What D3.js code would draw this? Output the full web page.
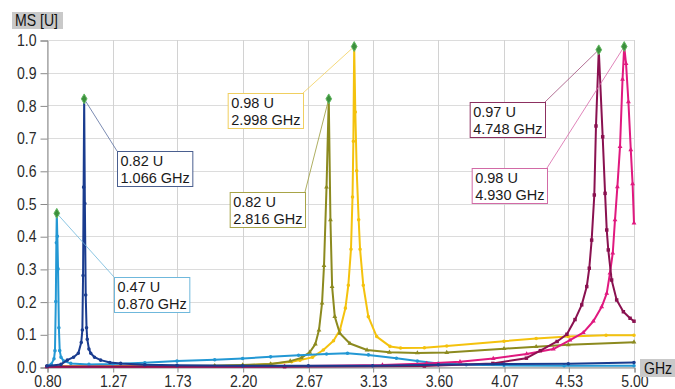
<!DOCTYPE html>
<html>
<head>
<meta charset="utf-8">
<script src="https://cdn.jsdelivr.net/npm/d3@7"></script>
<style>
  html, body { margin: 0; padding: 0; background: #fff; }
  svg { display: block; font-family: "Liberation Sans", Arial, sans-serif; }
</style>
</head>
<body>
<svg id="chart" width="675" height="389"></svg>
<script>
// ---------------- data ----------------
const xTickLabels = ["0.80","1.27","1.73","2.20","2.67","3.13","3.60","4.07","4.53","5.00"];
const yTickValues = [0.0,0.1,0.2,0.3,0.4,0.5,0.6,0.7,0.8,0.9,1.0];
const yAxisTitle = "MS [U]";
const xAxisTitle = "GHz";

// [frequency GHz, magnitude U]
const seriesYellow = [[0.80,0.002],[1.50,0.002],[2.00,0.003],[2.20,0.005],[2.40,0.009],[2.55,0.016],[2.61,0.021],[2.70,0.030],[2.777,0.052],[2.85,0.080],[2.896,0.113],[2.935,0.18],[2.956,0.25],[2.975,0.36],[2.986,0.52],[2.992,0.69],[2.998,0.98],[3.006,0.78],[3.016,0.60],[3.030,0.45],[3.040,0.36],[3.063,0.25],[3.099,0.154],[3.159,0.093],[3.254,0.063],[3.33,0.058],[3.50,0.059],[3.66,0.064],[4.07,0.079],[4.30,0.087],[4.53,0.093],[4.80,0.097],[5.00,0.097]];
const seriesOlive = [[0.80,0.001],[1.50,0.002],[2.00,0.004],[2.20,0.006],[2.40,0.009],[2.54,0.018],[2.62,0.028],[2.68,0.045],[2.72,0.07],[2.746,0.113],[2.768,0.195],[2.782,0.31],[2.800,0.55],[2.816,0.82],[2.828,0.45],[2.840,0.246],[2.859,0.154],[2.895,0.103],[2.967,0.072],[3.09,0.052],[3.25,0.045],[3.45,0.043],[3.66,0.044],[4.07,0.056],[4.30,0.062],[4.53,0.068],[5.00,0.076]];
const seriesLightBlue = [[0.80,0.004],[0.83,0.008],[0.85,0.025],[0.857,0.05],[0.863,0.20],[0.867,0.38],[0.870,0.47],[0.874,0.40],[0.879,0.30],[0.885,0.12],[0.891,0.05],[0.90,0.030],[0.92,0.018],[0.97,0.011],[1.10,0.008],[1.27,0.009],[1.50,0.013],[1.73,0.018],[2.00,0.022],[2.20,0.026],[2.40,0.031],[2.60,0.036],[2.80,0.040],[2.95,0.042],[3.10,0.037],[3.30,0.027],[3.45,0.018],[3.60,0.011],[3.80,0.007],[4.07,0.005],[4.50,0.004],[5.00,0.004]];
const seriesPink = [[0.80,0.001],[2.50,0.002],[3.20,0.006],[3.517,0.011],[3.755,0.016],[3.993,0.026],[4.232,0.040],[4.423,0.055],[4.542,0.082],[4.637,0.105],[4.709,0.14],[4.769,0.184],[4.805,0.225],[4.828,0.287],[4.848,0.348],[4.864,0.45],[4.881,0.551],[4.900,0.674],[4.918,0.88],[4.930,0.98],[4.943,0.928],[4.960,0.811],[4.977,0.664],[4.990,0.56],[5.00,0.44]];
const seriesMaroon = [[0.80,0.001],[2.50,0.001],[3.50,0.003],[3.99,0.011],[4.23,0.027],[4.33,0.050],[4.45,0.078],[4.52,0.100],[4.578,0.145],[4.626,0.19],[4.662,0.246],[4.680,0.302],[4.697,0.388],[4.716,0.526],[4.728,0.737],[4.748,0.97],[4.776,0.704],[4.793,0.531],[4.805,0.419],[4.816,0.358],[4.840,0.266],[4.876,0.205],[4.924,0.169],[4.972,0.149],[5.00,0.14]];
const seriesNavy = [[0.80,0.003],[0.90,0.008],[0.945,0.021],[0.99,0.030],[1.024,0.042],[1.045,0.075],[1.053,0.113],[1.058,0.28],[1.062,0.55],[1.066,0.82],[1.071,0.50],[1.077,0.22],[1.083,0.12],[1.088,0.085],[1.100,0.055],[1.113,0.042],[1.14,0.030],[1.184,0.021],[1.25,0.014],[1.327,0.011],[1.50,0.007],[1.73,0.005],[2.20,0.004],[2.67,0.004],[3.13,0.004],[3.60,0.007],[4.07,0.009],[4.53,0.010],[5.00,0.014]];

const peakFreqs = [0.870, 1.066, 2.816, 2.998, 4.748, 4.930];
const peakValues = [0.47, 0.82, 0.82, 0.98, 0.97, 0.98];

// ---------------- styling / layout ----------------
const seriesDefs = [
  { data: seriesYellow,    color: "#f4c20d", marker: "circle" },
  { data: seriesOlive,     color: "#8c8a1f", marker: "triangle" },
  { data: seriesLightBlue, color: "#2398d4", marker: "circle" },
  { data: seriesPink,      color: "#e0197f", marker: "triangle" },
  { data: seriesMaroon,    color: "#8a1150", marker: "square" },
  { data: seriesNavy,      color: "#1a3c8f", marker: "circle" }
];
const annot = [
  { box: [114, 277], corner: "tl", line: "#6fb8dc", border: "#6fb8dc" },
  { box: [117, 151], corner: "tl", line: "#5a6f9f", border: "#4a5f8f" },
  { box: [305, 192], corner: "tr", line: "#9a9a3a", border: "#a8a448" },
  { box: [303, 93],  corner: "tr", line: "#f2cf5a", border: "#f0cf60" },
  { box: [545, 102], corner: "tr", line: "#a04d7a", border: "#8c3060" },
  { box: [547, 168], corner: "tr", line: "#d866a8", border: "#d26aa6" }
];

const svg = d3.select("#chart");
const plot = { left: 47, right: 634, top: 40, bottom: 367 };

const x = d3.scaleLinear().domain([+xTickLabels[0], +xTickLabels[xTickLabels.length - 1]]).range([plot.left, plot.right]);
const y = d3.scaleLinear().domain([0, 1]).range([plot.bottom, plot.top]);

// grid
const grid = svg.append("g");
grid.selectAll("line.h").data(yTickValues).join("line")
  .attr("x1", plot.left).attr("x2", plot.right)
  .attr("y1", d => Math.round(y(d)) + 0.5).attr("y2", d => Math.round(y(d)) + 0.5)
  .attr("stroke", "#dcdcdc").attr("stroke-width", 1);
grid.selectAll("line.v").data(xTickLabels).join("line")
  .attr("x1", d => Math.round(x(+d)) + 0.5).attr("x2", d => Math.round(x(+d)) + 0.5)
  .attr("y1", plot.top).attr("y2", plot.bottom)
  .attr("stroke", "#d2d2d2").attr("stroke-width", 1);

// axes
const yAxis = d3.axisLeft(y).tickValues(yTickValues).tickFormat(d3.format(".1f")).tickSize(7).tickPadding(4);
const gy = svg.append("g").attr("transform", `translate(${plot.left + 0.5},0.5)`).call(yAxis);
gy.select(".domain").attr("stroke", "#8a8a8a");
gy.selectAll(".tick line").attr("stroke", "#8a8a8a");
gy.selectAll(".tick text").attr("font-size", 16).attr("fill", "#2a2a2a")
  .attr("font-family", "'Liberation Sans', Arial, sans-serif")
  .each(function () {
    const t = d3.select(this);
    const xx = +t.attr("x");
    t.attr("x", null).attr("transform", `translate(${xx},0) scale(0.88,1)`);
  });

const xAxis = d3.axisBottom(x).tickValues(xTickLabels.map(Number)).tickFormat((d, i) => xTickLabels[i]).tickSize(5).tickPadding(5);
const gx = svg.append("g").attr("transform", `translate(0.5,${plot.bottom + 0.5})`).call(xAxis);
gx.select(".domain").attr("stroke", "#8a8a8a");
gx.selectAll(".tick line").attr("stroke", "#8a8a8a");
gx.selectAll(".tick text").attr("font-size", 16).attr("fill", "#2a2a2a")
  .attr("font-family", "'Liberation Sans', Arial, sans-serif")
  .attr("dy", null).attr("y", null)
  .attr("transform", "translate(0,19) scale(0.88,1)");

// series lines
const line = d3.line().x(d => x(d[0])).y(d => y(d[1]));
const gs = svg.append("g");
seriesDefs.forEach(s => {
  gs.append("path").datum(s.data)
    .attr("d", line).attr("fill", "none")
    .attr("stroke", s.color).attr("stroke-width", 2).attr("stroke-linejoin", "round");
  const sym = s.marker === "triangle" ? d3.symbolTriangle : s.marker === "square" ? d3.symbolSquare : d3.symbolCircle;
  gs.append("g").selectAll("path").data(s.data).join("path")
    .attr("transform", d => `translate(${x(d[0])},${y(d[1])})`)
    .attr("d", d3.symbol().type(sym).size(s.marker === "square" ? 12 : 10))
    .attr("fill", s.color);
});

// annotations
const ga = svg.append("g");
peakFreqs.forEach((f, i) => {
  const a = annot[i];
  const px = x(f), py = y(peakValues[i]);
  const lines = [d3.format(".2f")(peakValues[i]) + " U", d3.format(".3f")(f) + " GHz"];
  const g = ga.append("g");
  const tg = g.append("g");
  lines.forEach((t, k) => {
    tg.append("text").text(t).attr("font-size", 14.5).attr("fill", "#1a1a1a")
      .attr("y", 15 + k * 17);
  });
  const w = d3.max(tg.selectAll("text").nodes(), n => n.getComputedTextLength()) + 6;
  const h = 35;
  const bx = a.corner === "tl" ? a.box[0] : a.box[0] - w;
  const by = a.box[1];
  g.insert("line", ":first-child")
    .attr("x1", px).attr("y1", py).attr("x2", a.box[0]).attr("y2", a.box[1])
    .attr("stroke", a.line).attr("stroke-width", 0.8);
  g.insert("rect", "g")
    .attr("x", bx + 0.5).attr("y", by + 0.5).attr("width", w).attr("height", h)
    .attr("fill", "#fff").attr("stroke", a.border).attr("stroke-width", 1);
  tg.attr("transform", `translate(${bx + 3.5},${by})`);
});
// peak markers
ga.selectAll("path.peak").data(peakFreqs).join("path")
  .attr("transform", (f, i) => `translate(${x(f)},${y(peakValues[i])})`)
  .attr("d", d3.symbol().type(d3.symbolDiamond).size(28))
  .attr("fill", "#3c8f3c").attr("stroke", "#62b862").attr("stroke-width", 1);

// axis titles in grey boxes
const tY = svg.append("g");
tY.append("rect").attr("x", 12).attr("y", 12).attr("width", 51).attr("height", 17).attr("fill", "#c9c9c9");
tY.append("text").text(yAxisTitle).attr("font-size", 16).attr("fill", "#111")
  .attr("transform", "translate(15,26) scale(0.88,1)");
const tX = svg.append("g");
tX.append("rect").attr("x", 640).attr("y", 359).attr("width", 35).attr("height", 18).attr("fill", "#c9c9c9");
tX.append("text").text(xAxisTitle).attr("font-size", 16).attr("fill", "#111")
  .attr("transform", "translate(644,374) scale(0.88,1)");
</script>
</body>
</html>
